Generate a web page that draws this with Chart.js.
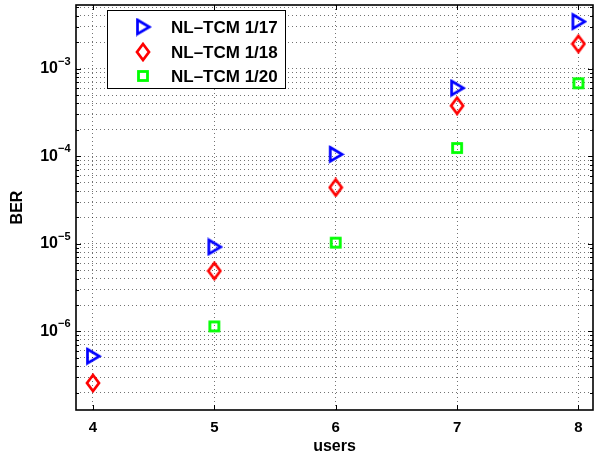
<!DOCTYPE html>
<html>
<head>
<meta charset="utf-8">
<script src="https://cdn.jsdelivr.net/npm/chart.js@4"></script>
<style>
  html, body { margin: 0; padding: 0; background: #fff; }
</style>
</head>
<body>
<canvas id="myChart" width="607" height="456"></canvas>
<script>
// values
const users = [4, 5, 6, 7, 8];
const ber17 = [5.2e-7, 9.2e-6, 1.05e-4, 6.0e-4, 3.44e-3];
const ber18 = [2.57e-7, 4.9e-6, 4.4e-5, 3.77e-4, 1.92e-3];
const ber20 = [null, 1.14e-6, 1.03e-5, 1.24e-4, 6.8e-4];
const names = ['NL\u2013TCM 1/17', 'NL\u2013TCM 1/18', 'NL\u2013TCM 1/20'];
const xTicks = [4, 5, 6, 7, 8];
const yDecades = [-7, -6, -5, -4, -3, -2];

const FONT = "'Liberation Sans', Arial, Helvetica, sans-serif";

// hollow matlab-like markers (size first, setting width resets the context)
function marker(kind, color) {
    const c = document.createElement('canvas');
    if (kind === 'tri') { c.width = 18; c.height = 19; }
    else if (kind === 'dia') { c.width = 16; c.height = 20; }
    else { c.width = 14; c.height = 14; }
    const g = c.getContext('2d');
    g.strokeStyle = color;
    g.lineWidth = 2.7;
    g.lineJoin = 'miter';
    g.beginPath();
    if (kind === 'tri') {
        g.moveTo(3.5, 2.5); g.lineTo(15.5, 9.5); g.lineTo(3.5, 16.5); g.closePath();
        g.stroke();
    } else if (kind === 'dia') {
        g.moveTo(8, 2); g.lineTo(14, 10); g.lineTo(8, 18); g.lineTo(2, 10); g.closePath();
        g.stroke();
    } else {
        g.lineWidth = 2.8;
        g.strokeRect(2.5, 2.5, 9, 9);
    }
    return c;
}

const markers = [marker('tri', '#0000ff'), marker('dia', '#ff0000'), marker('sq', '#00ff00')];

function pts(ys) {
    const out = [];
    users.forEach((u, i) => { if (ys[i] !== null) out.push({ x: u, y: ys[i] }); });
    return out;
}

const gridStyle = { color: 'rgba(0,0,0,0.55)', lineWidth: 1, drawTicks: false };

const matlabLook = {
    id: 'matlabLook',
    afterDraw(chart) {
        const ctx = chart.ctx;
        const a = chart.chartArea;
        const xs = chart.scales.x, ys = chart.scales.y;
        ctx.save();

        // frame
        ctx.strokeStyle = '#000';
        ctx.lineWidth = 1.6;
        ctx.strokeRect(a.left, a.top, a.right - a.left, a.bottom - a.top);

        // inward ticks
        ctx.lineWidth = 1;
        ctx.beginPath();
        ys.ticks.forEach(t => {
            const y = Math.round(ys.getPixelForValue(t.value)) + 0.5;
            const len = t.major ? 5 : 3;
            ctx.moveTo(a.left, y); ctx.lineTo(a.left + len, y);
            ctx.moveTo(a.right, y); ctx.lineTo(a.right - len, y);
        });
        xTicks.forEach(v => {
            const x = Math.round(xs.getPixelForValue(v)) + 0.5;
            ctx.moveTo(x, a.bottom); ctx.lineTo(x, a.bottom - 5);
            ctx.moveTo(x, a.top); ctx.lineTo(x, a.top + 5);
        });
        ctx.stroke();

        // y tick labels 10^n
        ctx.fillStyle = '#000';
        yDecades.forEach(e => {
            const v = Math.pow(10, e);
            if (v < ys.min || v > ys.max) return;
            const y = ys.getPixelForValue(v);
            ctx.font = 'bold 16px ' + FONT;
            ctx.textAlign = 'right';
            ctx.textBaseline = 'middle';
            ctx.fillText('10', 58, y);
            ctx.font = 'bold 11px ' + FONT;
            ctx.textAlign = 'left';
            ctx.fillText('\u2212' + Math.abs(e), 58, y - 7);
        });

        // legend
        const bx = 107.5, by = 10.5, bw = 178, bh = 78;
        ctx.fillStyle = '#fff';
        ctx.fillRect(bx, by, bw, bh);
        ctx.strokeStyle = '#000';
        ctx.lineWidth = 1;
        ctx.strokeRect(bx, by, bw, bh);
        const rows = [27, 52, 76];
        names.forEach((n, i) => {
            const m = markers[i];
            ctx.drawImage(m, 143 - m.width / 2, rows[i] - m.height / 2);
            ctx.fillStyle = '#000';
            ctx.font = 'bold 17px ' + FONT;
            ctx.textAlign = 'left';
            ctx.textBaseline = 'middle';
            ctx.fillText(n, 171, rows[i] + 1);
        });
        ctx.restore();
    }
};

const ctx = document.getElementById('myChart');
new Chart(ctx, {
    type: 'scatter',
    data: {
        datasets: [
            { label: names[0], data: pts(ber17), pointStyle: markers[0] },
            { label: names[1], data: pts(ber18), pointStyle: markers[1] },
            { label: names[2], data: pts(ber20), pointStyle: markers[2] }
        ]
    },
    options: {
        responsive: false,
        animation: false,
        layout: { padding: { left: 0, right: 14, top: 3, bottom: 0 } },
        plugins: { legend: { display: false }, tooltip: { enabled: false } },
        scales: {
            x: {
                type: 'linear',
                min: 3.86,
                max: 8.12,
                afterBuildTicks: s => { s.ticks = xTicks.map(v => ({ value: v })); },
                afterFit: s => { s.height = 46; },
                ticks: {
                    autoSkip: false,
                    maxRotation: 0,
                    padding: 9,
                    color: '#000',
                    font: { family: FONT, size: 15, weight: 'bold' }
                },
                grid: gridStyle,
                border: { display: false, dash: [1, 3] },
                title: {
                    display: true,
                    text: 'users',
                    color: '#000',
                    font: { family: FONT, size: 16, weight: 'bold' },
                    padding: { top: 0, bottom: 0 }
                }
            },
            y: {
                type: 'logarithmic',
                min: 1.265e-7,
                max: 5.33e-3,
                afterBuildTicks: s => {
                    const t = [];
                    yDecades.forEach(e => {
                        for (let k = 1; k <= 9; k++) {
                            const v = k * Math.pow(10, e);
                            if (v >= s.min && v <= s.max) t.push({ value: v, major: k === 1 });
                        }
                    });
                    s.ticks = t;
                },
                afterFit: s => { s.width = 76; },
                ticks: { display: false, autoSkip: false },
                grid: gridStyle,
                border: { display: false, dash: [1, 3] },
                title: {
                    display: true,
                    text: 'BER',
                    color: '#000',
                    font: { family: FONT, size: 16, weight: 'bold' },
                    padding: { top: 8, bottom: 0 }
                }
            }
        }
    },
    plugins: [matlabLook]
});
</script>
</body>
</html>
